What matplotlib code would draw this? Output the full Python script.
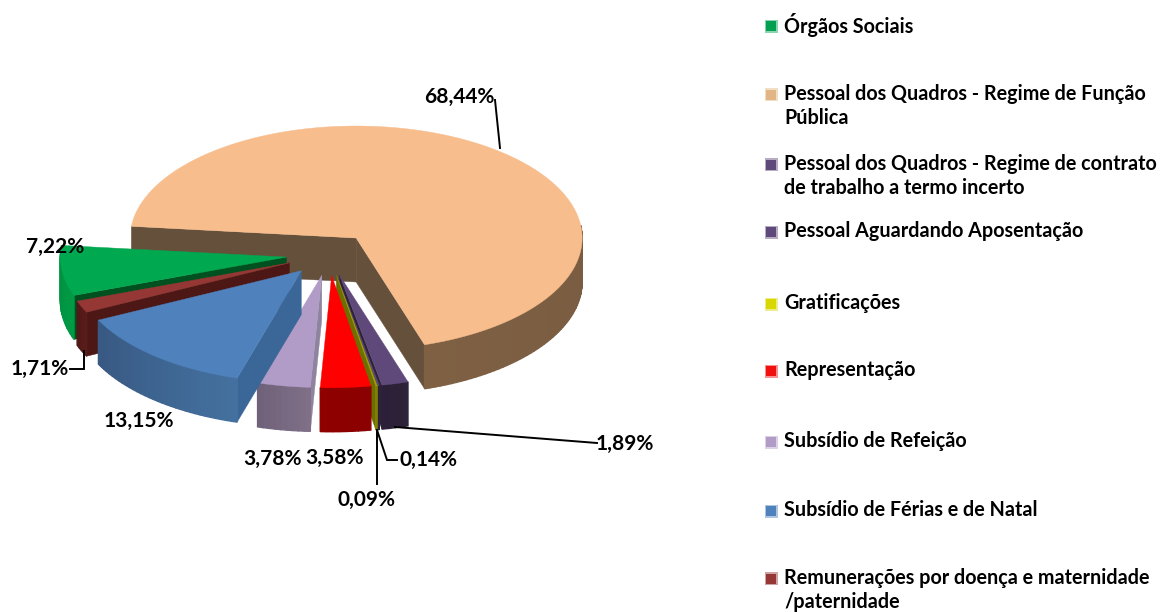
import numpy as np
import matplotlib
matplotlib.use("Agg")
import matplotlib.pyplot as plt
from matplotlib.colors import to_rgb
from matplotlib.patches import Rectangle

categorias = ["Órgãos Sociais",
              "Pessoal dos Quadros - Regime de Função\nPública",
              "Pessoal dos Quadros - Regime de contrato\nde trabalho a termo incerto",
              "Pessoal Aguardando Aposentação",
              "Gratificações",
              "Representação",
              "Subsídio de Refeição",
              "Subsídio de Férias e de Natal",
              "Remunerações por doença e maternidade\n/paternidade"]
valores = [7.22, 68.44, 1.89, 0.14, 0.09, 3.58, 3.78, 13.15, 1.71]

cor_topo = ["#00A84F", "#F7BD8C", "#5F497A", "#5F497A", "#A8A800", "#FF0000", "#B09CC6", "#4F81BD", "#953735"]
cor_aba_a = ["#009A45", "#6A5240", "#2E2238", "#2E2238", "#7F7F00", "#8B0000", "#7F7088", "#44709F", "#5A1C1B"]
cor_aba_b = ["#00903F", "#7F6043", "#2A1F38", "#2A1F38", "#7F7F00", "#8F0000", "#6E6078", "#375881", "#4D1716"]
cor_lado = ["#00511F", "#65503C", "#2E2238", "#2E2238", "#6E6E00", "#8B0000", "#8F84A0", "#3A6797", "#4D1716"]
cor_legenda = ["#00A050", "#E2B684", "#5F497A", "#5F497A", "#D8D800", "#F01010", "#B09CC6", "#4F81BD", "#953735"]

# geometria da pizza (pixels)
cx, cy = 329, 254.5
raio_x, raio_y = 226, 112
altura = 44
explode = 0.19
angulo_inicial = 200

legenda_y = [25, 106, 176, 231, 303, 370, 441, 510, 590]
rotulos_pos = [(55, 247), (459, 97), (625, 444), (428, 460), (367, 500), (335, 458), (272, 459), (139, 421), (40, 369)]
linhas = [([495, 500], [100, 148]),
          ([70, 84, 84], [369, 369, 351]),
          ([597, 395], [443, 427]),
          ([397, 387, 377], [460, 460, 430]),
          ([377, 377], [484, 430])]


def ponto(ox, oy, ang):
    return ox + raio_x * np.cos(ang), oy - raio_y * np.sin(ang)


def desenhar_fatia(ax, i, ini, fim):
    meio = (ini + fim) / 2
    ox = cx + explode * raio_x * np.cos(meio)
    oy = cy - explode * raio_y * np.sin(meio)
    z = 10 + ordem.index(i) * 10

    # faces radiais, so as que ficam viradas para a frente
    for ang, visivel in [(ini, np.cos(ini) < 0), (fim, np.cos(fim) > 0)]:
        if visivel:
            x, y = ponto(ox, oy, ang)
            ax.fill([ox, x, x, ox], [oy, y, y + altura, oy + altura], color=cor_lado[i], lw=0.3, zorder=z)

    # aba externa em faixas, para dar o degrade
    n = max(int(abs(fim - ini) * 40), 2)
    angs = np.linspace(ini, fim, n + 1)
    a, b = np.array(to_rgb(cor_aba_a[i])), np.array(to_rgb(cor_aba_b[i]))
    for k in range(n):
        x, y = ponto(ox, oy, angs[k:k + 2])
        if np.sin(angs[k]) > 0.1 and np.sin(angs[k + 1]) > 0.1:
            continue
        t = k / n
        ax.fill([x[0], x[1], x[1], x[0]], [y[0], y[1], y[1] + altura, y[0] + altura],
                color=a + (b - a) * t, lw=1.0, zorder=z + 1)

    # topo
    angs = np.linspace(ini, fim, max(int(abs(fim - ini) * 60), 2))
    x, y = ponto(ox, oy, angs)
    ax.fill(np.r_[ox, x], np.r_[oy, y], color=cor_topo[i], lw=0.3, zorder=z + 2)


fig = plt.figure(figsize=(11.62, 6.12), dpi=100)
ax = fig.add_axes([0, 0, 1, 1])
ax.set_xlim(0, 1162)
ax.set_ylim(612, 0)
ax.axis("off")

# do fundo para a frente
ordem = [1, 0, 8, 2, 3, 4, 5, 6, 7]
fracoes = np.array(valores) / sum(valores) * 2 * np.pi
fins = np.radians(angulo_inicial) - np.cumsum(fracoes)
inis = fins + fracoes
for i in ordem:
    desenhar_fatia(ax, i, inis[i], fins[i])

for lx, ly in linhas:
    ax.plot(lx, ly, color="black", lw=1.4, zorder=200, solid_joinstyle="miter")

for v, (x, y) in zip(valores, rotulos_pos):
    txt = f"{v:.2f}%".replace(".", ",")
    ax.text(x, y, txt, ha="center", va="center", fontsize=15, fontweight="bold",
            family="Lato", color="black", zorder=210)

for nome, y, cor in zip(categorias, legenda_y, cor_legenda):
    primeira_y = y - 12.5 if "\n" in nome else y
    ax.add_patch(Rectangle((764.5, primeira_y - 5.5), 13, 13, facecolor=cor, edgecolor="none", alpha=0.45))
    ax.add_patch(Rectangle((766, primeira_y - 4), 10, 10, facecolor=cor, edgecolor="none"))
    ax.text(784, y, nome, ha="left", va="center", fontsize=14.2, fontweight="bold",
            family="Lato", color="black", linespacing=1.25)

fig.savefig("out.png", dpi=100)
